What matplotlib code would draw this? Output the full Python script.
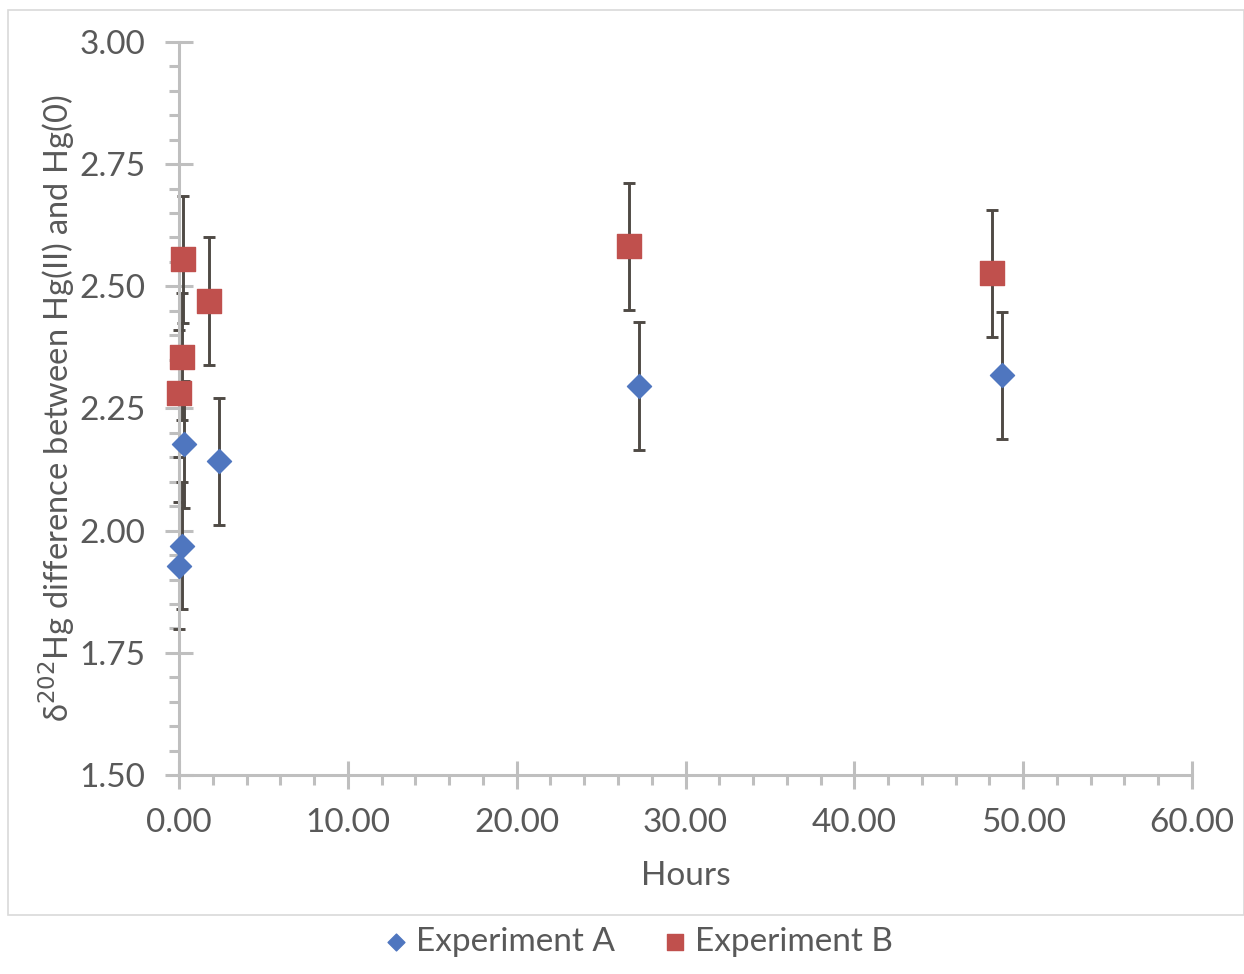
import numpy as np
import matplotlib.pyplot as plt
from matplotlib.patches import Rectangle
from matplotlib.ticker import MultipleLocator, FormatStrFormatter

# hours and delta values for the two runs
hours_a = [0.02, 0.16, 0.31, 2.39, 27.25, 48.76]
delta_a = [1.928, 1.969, 2.177, 2.142, 2.296, 2.318]
err_a = [0.13, 0.13, 0.13, 0.13, 0.13, 0.13]

hours_b = [0.02, 0.16, 0.25, 1.78, 26.66, 48.16]
delta_b = [2.281, 2.356, 2.555, 2.470, 2.582, 2.527]
err_b = [0.13, 0.13, 0.13, 0.13, 0.13, 0.13]

plt.rcParams['font.family'] = ['Lato', 'DejaVu Sans']
txt = '#595959'
axc = '#BFBFBF'

fig = plt.figure(figsize=(12.44, 9.74), dpi=100)
ax = fig.add_axes([0.1439, 0.2043, 0.8143, 0.7526])

# chart border
fig.patches.append(Rectangle((8 / 1244, 1 - 915 / 974), 1 - 8 / 1244, (915 - 10) / 974,
                             transform=fig.transFigure, fill=False, edgecolor='#D9D9D9', lw=1.2))

for h, d, e in [(hours_a, delta_a, err_a), (hours_b, delta_b, err_b)]:
    eb = ax.errorbar(h, d, yerr=e, fmt='none', ecolor='#4F4A45',
                     elinewidth=2.1, capsize=4.5, capthick=2.1, zorder=2)
    for art in eb.lines[1] + eb.lines[2]:
        art.set_clip_on(False)
ax.scatter(hours_a, delta_a, marker='D', s=150, color='#4F76BF', zorder=3,
           label='Experiment A', clip_on=False)
ax.scatter(hours_b, delta_b, marker='s', s=300, color='#C0504D', zorder=3,
           label='Experiment B', clip_on=False)

ax.set_xlim(0, 60)
ax.set_ylim(1.5, 3.0)
ax.xaxis.set_major_locator(MultipleLocator(10))
ax.xaxis.set_minor_locator(MultipleLocator(2))
ax.yaxis.set_major_locator(MultipleLocator(0.25))
ax.yaxis.set_minor_locator(MultipleLocator(0.05))
ax.xaxis.set_major_formatter(FormatStrFormatter('%.2f'))
ax.yaxis.set_major_formatter(FormatStrFormatter('%.2f'))

for s in ['top', 'right']:
    ax.spines[s].set_visible(False)
for s in ['left', 'bottom']:
    ax.spines[s].set_color(axc)
    ax.spines[s].set_linewidth(2.2)

ax.tick_params(which='major', direction='inout', length=20, width=2.2, color=axc,
               labelsize=24, labelcolor=txt, pad=14)
ax.tick_params(which='minor', direction='out', length=7, width=2.2, color=axc)
ax.tick_params(axis='x', which='major', pad=14)

ax.set_xlabel('Hours', fontsize=24, color=txt, labelpad=16)
ax.set_ylabel(r'δ$^{202}$Hg difference between Hg(II) and Hg(0)', fontsize=23.5, color=txt, labelpad=2)

leg = fig.legend(loc='center', bbox_to_anchor=(0.51, 1 - 942 / 974), ncol=2, frameon=False,
                 fontsize=24, labelcolor=txt, handletextpad=0.0, columnspacing=1.2,
                 handlelength=1.2, markerscale=0.7)

fig.savefig('out.png', dpi=100)
